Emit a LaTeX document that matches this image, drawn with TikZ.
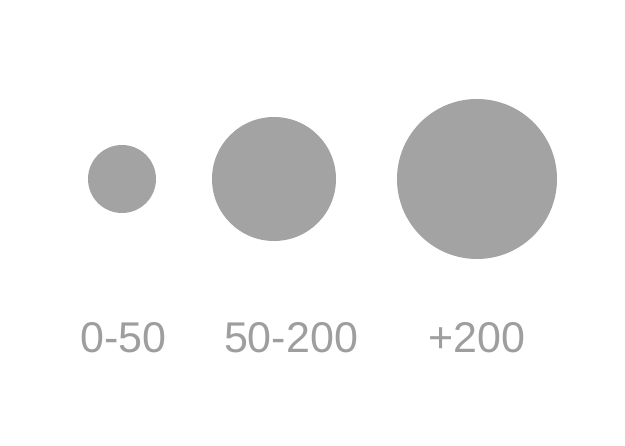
\documentclass[tikz,border=0pt]{standalone}
\usepackage{fontspec}
\setmainfont{Liberation Sans}
\definecolor{dotgray}{HTML}{A3A3A3}
\definecolor{labelgray}{HTML}{9E9E9E}
\begin{document}
\begin{tikzpicture}[x=1pt,y=-1pt,
  dot/.style={circle,fill=dotgray,draw=none,inner sep=0pt},
  lbl/.style={text=labelgray,font=\fontsize{43}{50}\selectfont,inner sep=0pt,anchor=base}]
\useasboundingbox[fill=white] (0,0) rectangle (625,446);
\node[dot,minimum size=68pt] (d1) at (122,179) {};
\node[dot,minimum size=124pt] (d2) at (274,179) {};
\node[dot,minimum size=160pt] (d3) at (477,179) {};
\node[lbl] (l1) at (123.8,352.3) {0-50};
\node[lbl] (l2) at (291,352.3) {50-200};
\node[lbl] (l3) at (476.5,352.3) {+200};
\end{tikzpicture}
\end{document}
